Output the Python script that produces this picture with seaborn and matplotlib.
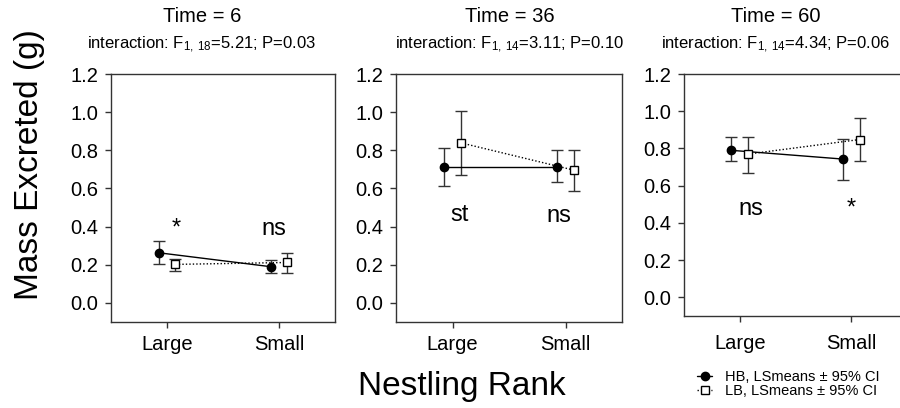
import numpy as np
import pandas as pd
import seaborn as sns
import matplotlib
matplotlib.use("Agg")
import matplotlib.pyplot as plt
from matplotlib.lines import Line2D

# Data
times = [6, 36, 60]
ranks = ["Large", "Small"]
stats = ["interaction: F$_{1,\\,18}$=5.21; P=0.03",
         "interaction: F$_{1,\\,14}$=3.11; P=0.10",
         "interaction: F$_{1,\\,14}$=4.34; P=0.06"]

hb_mean = [[0.263, 0.190], [0.715, 0.715], [0.790, 0.743]]
hb_low = [[0.202, 0.155], [0.613, 0.632], [0.732, 0.633]]
hb_high = [[0.324, 0.223], [0.813, 0.799], [0.864, 0.850]]

lb_mean = [[0.202, 0.212], [0.839, 0.696], [0.770, 0.848]]
lb_low = [[0.167, 0.155], [0.668, 0.586], [0.668, 0.732]]
lb_high = [[0.232, 0.263], [1.008, 0.804], [0.864, 0.962]]

sig_labels = [["*", "ns"], ["st", "ns"], ["ns", "*"]]
sig_y = [[0.357, 0.357], [0.432, 0.426], [0.445, 0.445]]

# Long table
rows = []
for i, t in enumerate(times):
    for j, r in enumerate(ranks):
        rows.append(dict(time=t, rank=r, rank_idx=j, group="HB",
                         mean=hb_mean[i][j], low=hb_low[i][j], high=hb_high[i][j]))
        rows.append(dict(time=t, rank=r, rank_idx=j, group="LB",
                         mean=lb_mean[i][j], low=lb_low[i][j], high=lb_high[i][j]))
df = pd.DataFrame(rows)

sns.set_theme(style="ticks")
plt.rcParams["font.family"] = ["Liberation Sans", "DejaVu Sans"]
plt.rcParams["mathtext.default"] = "regular"
for k in ["text.color", "axes.labelcolor", "xtick.labelcolor", "ytick.labelcolor"]:
    plt.rcParams[k] = "black"

fig = plt.figure(figsize=(9, 4.08), dpi=100)

# axes positions in pixels: left, top, right, bottom
boxes = [(111, 74, 335, 322), (396, 74, 622, 322), (684, 74, 907, 316)]
title_x = [202, 510, 776]
W, H = 900, 408
offsets = {"HB": -0.075, "LB": 0.075}
styles = {
    "HB": dict(linestyle="-", marker="o", markerfacecolor="black", markersize=6),
    "LB": dict(linestyle=(0, (1, 1.5)), marker="s", markerfacecolor="white", markersize=5.5),
}

for i, t in enumerate(times):
    l, tp, r, b = boxes[i]
    ax = fig.add_axes([l / W, (H - b) / H, (r - l) / W, (b - tp) / H])
    sub = df[df["time"] == t].copy()
    sub["x"] = sub["rank_idx"] + sub["group"].map(offsets)

    for g in ["HB", "LB"]:
        d = sub[sub["group"] == g]
        ax.errorbar(d["x"], d["mean"], yerr=[d["mean"] - d["low"], d["high"] - d["mean"]],
                    fmt="none", ecolor="#333333", elinewidth=1, capsize=4, capthick=1, zorder=2)
        sns.lineplot(data=d, x="x", y="mean", ax=ax, color="black", lw=1,
                     markeredgecolor="black", markeredgewidth=1, zorder=3, **styles[g])

    # significance labels
    for j in range(2):
        dx = [[0.08, -0.05], [0.06, -0.06], [0.1, 0.0]][i][j]
        ax.text(j + dx, sig_y[i][j], sig_labels[i][j], ha="center", va="baseline", fontsize=17)

    ax.set_xlim(-0.5, 1.5)
    ax.set_ylim(-0.1, 1.2)
    ax.set_xticks([0, 1])
    ax.set_xticklabels(ranks)
    ax.set_yticks(np.arange(0, 1.21, 0.2))
    ax.set_yticklabels([f"{v:.1f}" for v in np.arange(0, 1.21, 0.2)])
    ax.set_xlabel("")
    ax.set_ylabel("")
    ax.tick_params(labelsize=14.5, length=4, width=1, color="#333333", pad=5)
    if i == 2:
        ax.tick_params(axis="x", pad=9)
    for s in ax.spines.values():
        s.set_visible(True)
        s.set_color("#333333")
        s.set_linewidth(1)

    cx = title_x[i] / W
    fig.text(cx, 1 - 17 / H, f"Time = {t}", ha="center", va="center", fontsize=14.5)
    fig.text(cx, 1 - 45 / H, stats[i], ha="center", va="center", fontsize=12)

fig.text(0.033, 1 - 165 / H, "Mass Excreted (g)", rotation=90, ha="center", va="center", fontsize=24)
fig.text(462 / W, 1 - 386 / H, "Nestling Rank", ha="center", va="center", fontsize=24)

handles = [
    Line2D([], [], color="black", lw=1, **styles["HB"]),
    Line2D([], [], color="black", lw=1, markeredgecolor="black", **styles["LB"]),
]
fig.legend(handles, ["HB, LSmeans \u00b1 95% CI", "LB, LSmeans \u00b1 95% CI"],
           loc="lower left", bbox_to_anchor=(690 / W, 3 / H), frameon=False,
           fontsize=10.5, handlelength=1.0, handletextpad=0.9, labelspacing=0.0, borderpad=0)

fig.savefig("out.png", dpi=100)
